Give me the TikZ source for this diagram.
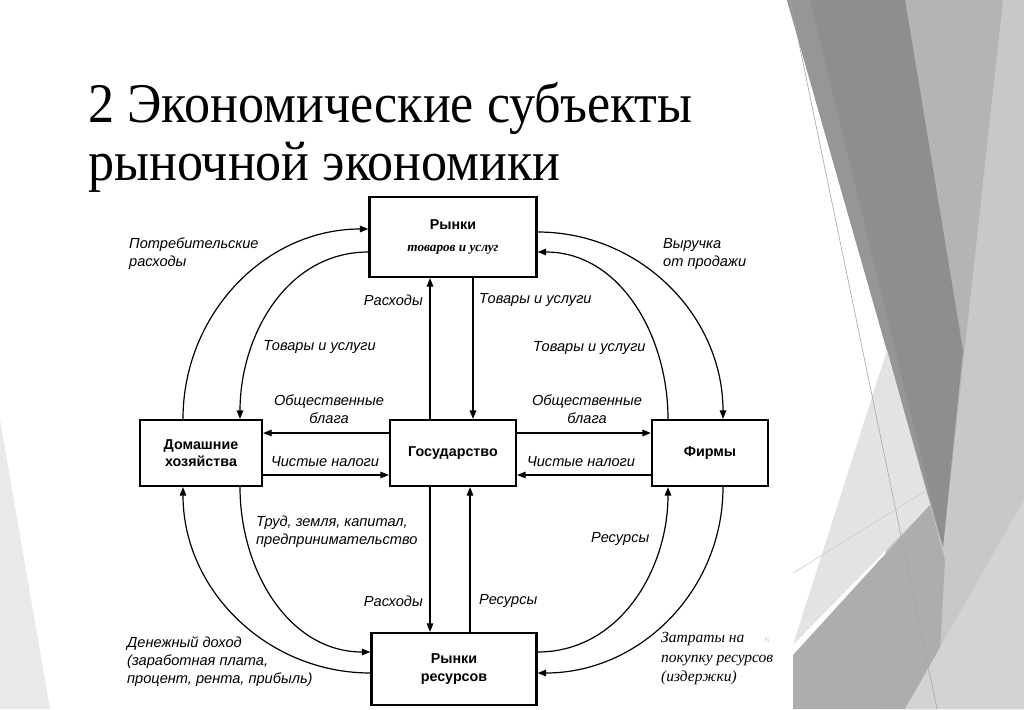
\documentclass[tikz,border=0pt]{standalone}
\usepackage{fontspec}
\setmainfont{Liberation Serif}
\setsansfont{Liberation Sans}
\usetikzlibrary{arrows.meta}

\definecolor{bgdark}{HTML}{8E8E8E}
\definecolor{bgmid}{HTML}{B4B4B4}
\definecolor{bglight}{HTML}{C8C8C8}
\definecolor{bgpale}{HTML}{E3E3E3}
\definecolor{bgbottom}{HTML}{ADADAD}
\definecolor{bgcorner}{HTML}{D3D3D3}

\begin{document}
\begin{tikzpicture}[x=1pt,y=-1pt,
  box/.style={draw,line width=2.2pt,align=center,inner sep=0pt,
    font=\sffamily\bfseries\fontsize{14.3}{17.5}\selectfont},
  flow/.style={line width=1.2pt,-{Triangle[length=8.5pt,width=6.5pt]}},
  lbl/.style={inner sep=0pt,font=\sffamily\itshape\fontsize{14.6}{18}\selectfont},
  serlbl/.style={inner sep=0pt,font=\itshape\fontsize{15.5}{19.5}\selectfont}]
  \useasboundingbox (0,0) rectangle (1024,709);
  \fill[white] (0,0) rectangle (1024,709);

  % slide background
  \fill[bgpale!80] (0,420) -- (50,709) -- (0,709) -- cycle;
  \fill[bglight] (905,0) -- (1024,0) -- (1024,709) -- (880,709) -- cycle;
  \fill[bgmid] (905,0) -- (1003,0) -- (943,547) -- cycle;
  \fill[bgdark] (787,0) -- (905,0) -- (963,350) -- (943,547) -- cycle;
  \fill[bgdark!93!white] (787,0) -- (810,0) -- (943,547) -- cycle;
  \fill[bgpale] (793,645) -- (887,350) -- (930,505) -- cycle;
  \fill[bgbottom] (793,655) -- (930,505) -- (945,560) -- (937,709) -- (793,709) -- cycle;
  \fill[bgcorner] (1024,500) -- (905,709) -- (1024,709) -- cycle;
  \draw[gray!70,line width=0.6pt] (790,0) -- (937,709);
  \draw[gray!40,line width=0.6pt] (793,573) -- (927,490);

  \node[anchor=base west,inner sep=0pt,font=\fontsize{56}{60}\selectfont] (title) at (88,122)
    {\scalebox{0.93}[1]{2 Экономические субъекты}};
  \node[anchor=base west,inner sep=0pt,font=\fontsize{56}{60}\selectfont] (title2) at (88,180)
    {\scalebox{0.93}[1]{рыночной экономики}};

  \node[box,fill=white,minimum width=167pt,minimum height=80pt] (goods) at (453,237)
    {Рынки\\[4pt]{\rmfamily\itshape\bfseries\fontsize{13.2}{14}\selectfont товаров и услуг}};
  \node[box,fill=white,minimum width=122pt,minimum height=66pt] (house) at (201,453) {Домашние\\хозяйства};
  \node[box,fill=white,minimum width=126pt,minimum height=66pt] (state) at (453,453) {Государство};
  \node[box,fill=white,minimum width=116pt,minimum height=66pt] (firms) at (710,453) {Фирмы};
  \node[box,fill=white,minimum width=165pt,minimum height=72pt] (resmark) at (454,669) {Рынки\\ресурсов};

  \draw[flow] ([xshift=-23pt]state.north) -- ([xshift=-23pt]goods.south);
  \draw[flow] ([xshift=20pt]goods.south) -- ([xshift=20pt]state.north);
  \draw[flow] ([xshift=-23pt]state.south) -- ([xshift=-24pt]resmark.north);
  \draw[flow] ([xshift=16pt]resmark.north) -- ([xshift=17pt]state.south);
  \draw[flow] ([yshift=20pt]state.west) -- ([yshift=20pt]house.east);
  \draw[flow] ([yshift=-22pt]house.east) -- ([yshift=-22pt]state.west);
  \draw[flow] ([yshift=20pt]state.east) -- ([yshift=20pt]firms.west);
  \draw[flow] ([yshift=-22pt]firms.west) -- ([yshift=-22pt]state.east);

  \draw[flow] ([xshift=-18pt]house.north) to[out=90,in=180] ([yshift=8pt]goods.west);
  \draw[flow] ([yshift=-15pt]goods.west) to[out=180,in=90] ([xshift=39pt]house.north);
  \draw[flow] ([yshift=5pt]goods.east) to[out=0,in=90] ([xshift=13pt]firms.north);
  \draw[flow] ([xshift=-42pt]firms.north) to[out=90,in=0] ([yshift=-15pt]goods.east);
  \draw[flow] ([xshift=39pt]house.south) to[out=-90,in=180] ([yshift=17pt]resmark.west);
  \draw[flow] ([yshift=-4pt]resmark.west) to[out=180,in=-90] ([xshift=-18pt]house.south);
  \draw[flow] ([yshift=17pt]resmark.east) to[out=0,in=-90] ([xshift=-42pt]firms.south);
  \draw[flow] ([xshift=13pt]firms.south) to[out=-90,in=0] ([yshift=-4pt]resmark.east);

  \node[lbl,anchor=west,align=left] (consume) at (129,254) {Потребительские\\расходы};
  \node[lbl,anchor=west,align=left] (revenue) at (663,254) {Выручка\\от продажи};
  \node[lbl,anchor=east] (spendtop) at (423,300) {Расходы};
  \node[lbl,anchor=west] (goodstop) at (479,300) {Товары и услуги};
  \node[lbl,anchor=east] (goodsleft) at (376,347) {Товары и услуги};
  \node[lbl,anchor=west] (goodsright) at (533,348) {Товары и услуги};
  \node[lbl,align=center] (publeft) at (329,409) {Общественные\\блага};
  \node[lbl,align=center] (pubright) at (587,409) {Общественные\\блага};
  \node[lbl] (taxleft) at (325,462) {Чистые налоги};
  \node[lbl] (taxright) at (581,462) {Чистые налоги};
  \node[lbl,anchor=west,align=left] (factors) at (256,532) {Труд, земля, капитал,\\предпринимательство};
  \node[lbl,anchor=east] (spendbot) at (423,601) {Расходы};
  \node[lbl,anchor=west] (resbot) at (479,601) {Ресурсы};
  \node[lbl,anchor=west] (resright) at (591,539) {Ресурсы};
  \node[lbl,anchor=west,align=left] (income) at (127,662) {Денежный доход\\(заработная плата,\\процент, рента, прибыль)};
  \node[serlbl,anchor=west,align=left] (costs) at (661,659) {Затраты на\\покупку ресурсов\\(издержки)};
  \node[font=\fontsize{8}{8}\selectfont,text=gray!50] (slideno) at (767,640) {6};
\end{tikzpicture}
\end{document}
